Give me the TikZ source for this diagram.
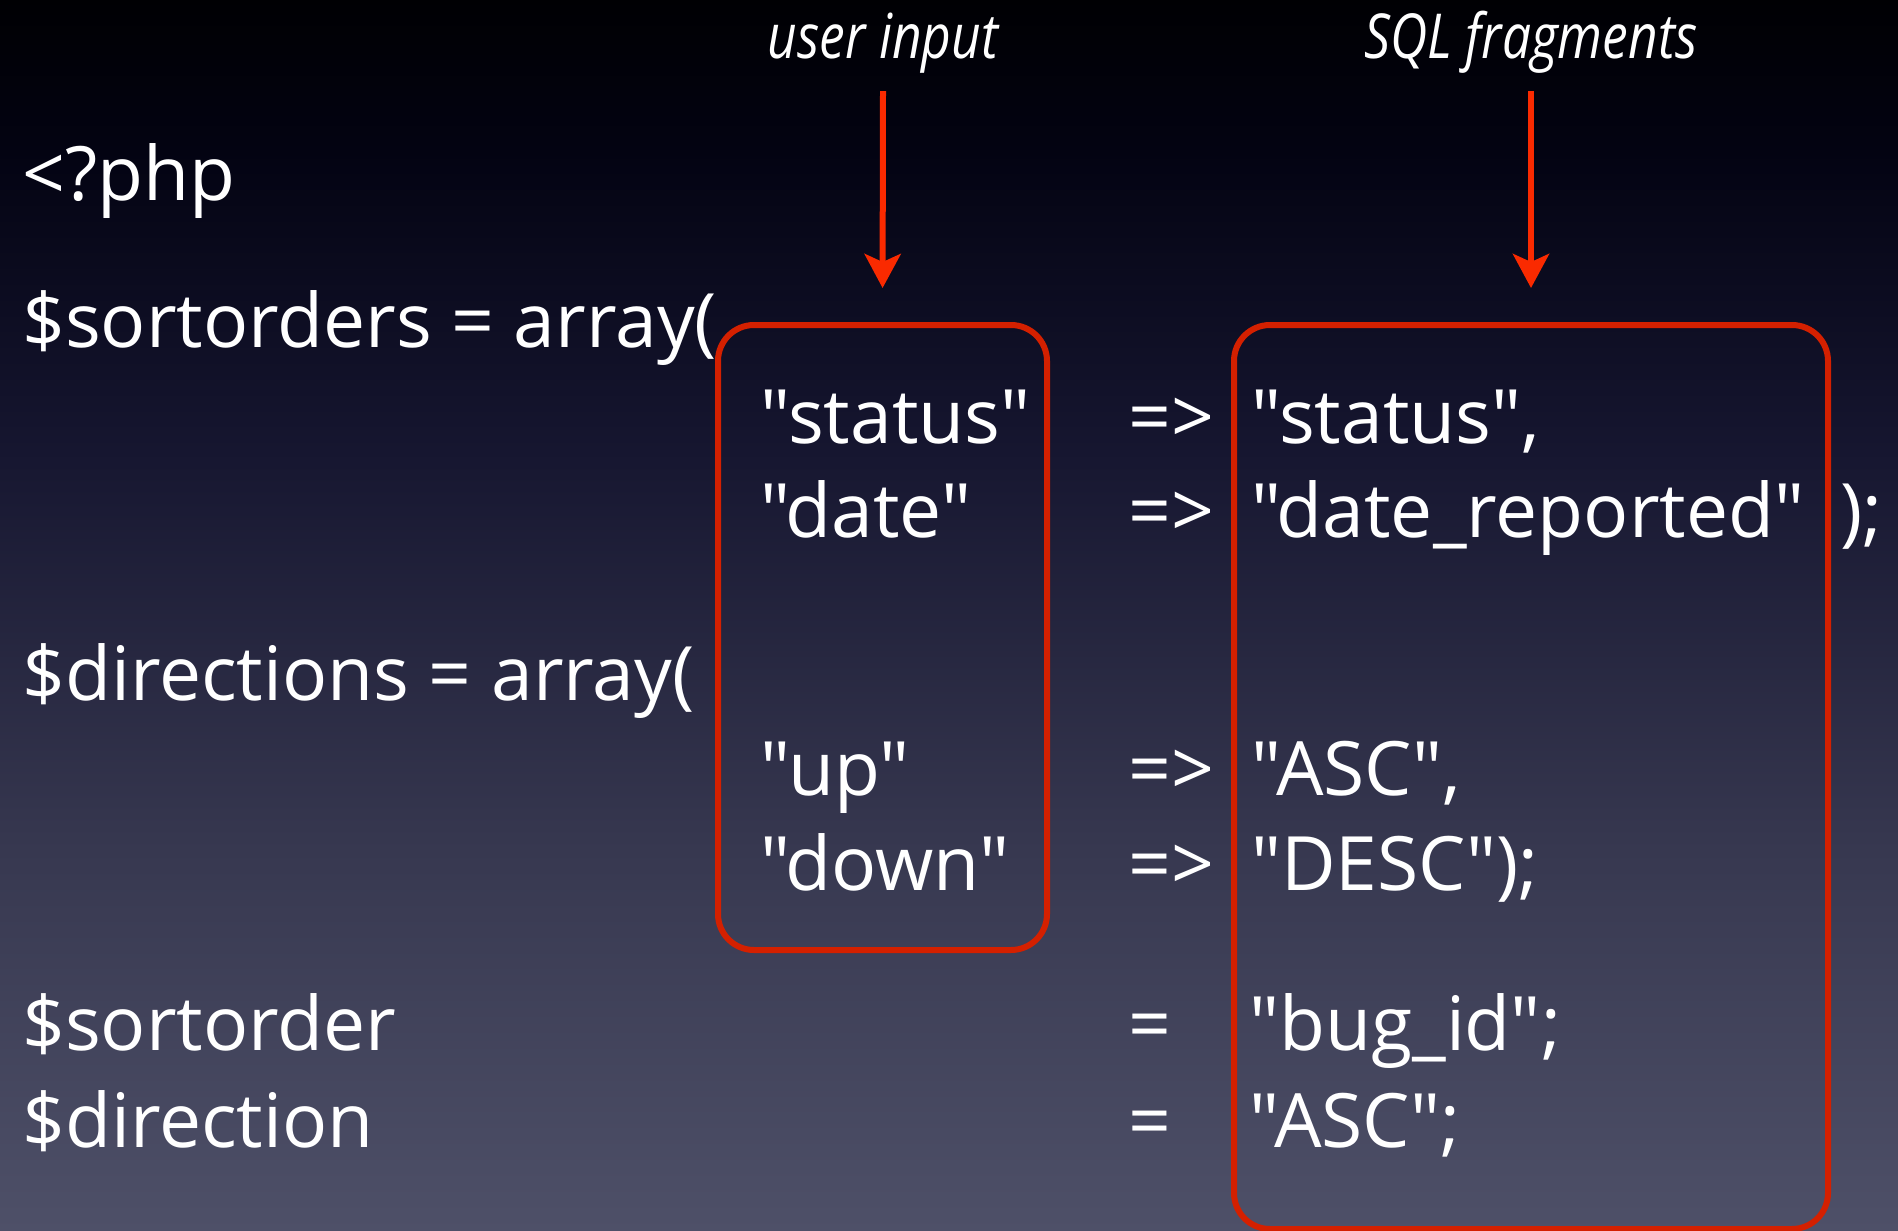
\documentclass[tikz,border=0pt]{standalone}
\usepackage{fontspec}
\setmainfont{Open Sans}[Ligatures=TeXOff]
\newfontfamily\labelfont{Open Sans}[Ligatures=TeXOff,FakeStretch=0.83]
\usetikzlibrary{arrows.meta}
\definecolor{bgA}{RGB}{78,80,104}
\definecolor{bgB}{RGB}{55,56,80}
\definecolor{bgC}{RGB}{22,22,48}
\definecolor{bgD}{RGB}{3,3,18}
\definecolor{bgE}{RGB}{0,0,3}
\definecolor{boxred}{RGB}{212,32,0}
\definecolor{arrred}{RGB}{250,42,0}
\pgfdeclareverticalshading{slidebg}{100bp}{color(0bp)=(bgA); color(25bp)=(bgA); color(40.48bp)=(bgB); color(56.7bp)=(bgC); color(68.9bp)=(bgD); color(75bp)=(bgE); color(100bp)=(bgE)}
\tikzset{
  code/.style={anchor=base west, inner sep=0pt, text=white, font=\fontsize{75}{80}\selectfont},
  lab/.style={anchor=base, inner sep=0pt, text=white, font=\labelfont\itshape\fontsize{62}{66}\selectfont},
  hlbox/.style={draw=boxred, line width=6pt, rounded corners=36pt, inner sep=0pt},
  arr/.style={draw=arrred, line width=6pt, -{Stealth[length=34pt,width=36pt,inset=8pt]}}
}
\begin{document}
\begin{tikzpicture}[x=1pt,y=-1pt]
\useasboundingbox (0,0) rectangle (1898,1231);
\shade[shading=slidebg] (0,0) rectangle (1898,1231);
% highlight boxes
\node[hlbox, minimum width=329pt, minimum height=625pt] (inbox) at (882.5,637.5) {};
\node[hlbox, minimum width=594pt, minimum height=904pt] (sqlbox) at (1531,777) {};
% labels
\node[lab] (ul) at (883,59) {user input};
\node[lab] (sl) at (1531,59) {SQL fragments};
\draw[arr, shorten >=34pt] ([yshift=-17pt]ul.south) -- (inbox.north);
\draw[arr, shorten >=34pt] ([yshift=-17pt]ul.south -| sl.south) -- (sqlbox.north);
% code
\node[code] (php) at (22,200) {<?php};
\node[code] (so) at (22,347) {\$sortorders = array(};
\node[code] (k1) at (760,443) {"status"};
\node[code] (a1) at (1128,443) {=>};
\node[code] (v1) at (1251,443) {"status",};
\node[code] (k2) at (760,537) {"date"};
\node[code] (a2) at (1128,537) {=>};
\node[code] (v2) at (1251,537) {"date\_reported"};
\node[code] (c2) at (1840,537) {);};
\node[code] (di) at (22,700) {\$directions = array(};
\node[code] (k3) at (760,795) {"up"};
\node[code] (a3) at (1128,795) {=>};
\node[code] (v3) at (1251,795) {"ASC",};
\node[code] (k4) at (760,890) {"down"};
\node[code] (a4) at (1128,890) {=>};
\node[code] (v4) at (1251,890) {"DESC");};
\node[code] (s1) at (22,1050) {\$sortorder};
\node[code] (e1) at (1128,1050) {=};
\node[code] (v5) at (1249,1050) {"bug\_id";};
\node[code] (s2) at (22,1147) {\$direction};
\node[code] (e2) at (1128,1147) {=};
\node[code] (v6) at (1249,1147) {"ASC";};
\end{tikzpicture}
\end{document}
